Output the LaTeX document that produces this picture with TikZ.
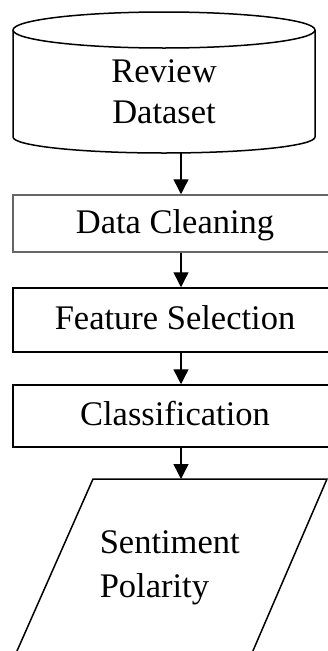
\documentclass[tikz,border=0pt]{standalone}
\usepackage{fontspec}
\setmainfont{Liberation Serif}
\usetikzlibrary{arrows.meta}
\begin{document}
\begin{tikzpicture}[x=1pt,y=-1pt,line width=1.5pt,
  arr/.style={-{Triangle[length=15pt,width=15pt]},line width=1.4pt},
  stepbox/.style={draw,minimum width=324pt,inner sep=0pt,text height=23pt,text depth=4pt,font=\fontsize{34.5}{41}\selectfont},
  lbl/.style={inner sep=0pt,font=\fontsize{34.5}{41}\selectfont}]
\clip (0,0) rectangle (328,651);
% cylinder
\draw (164,30) ellipse[x radius=151,y radius=18];
\draw (13,30) -- (13,137) arc[start angle=180,end angle=0,x radius=151,y radius=16] -- (315,30);
\node[lbl,align=center,anchor=north] (rev) at (164,59) {Review\\Dataset};
\coordinate (cylb) at (181,152.9);
% boxes
\node[stepbox,draw=black!60,minimum height=57pt] (dc) at (175,223.5) {Data Cleaning};
\node[stepbox,minimum height=64pt] (fs) at (175,320) {Feature Selection};
\node[stepbox,minimum height=62pt] (cl) at (175,416) {Classification};
% parallelogram
\coordinate (ptop) at (181,479);
\draw (93,479) -- (327,479) -- (249,660) -- (13,660) -- cycle;
\node[lbl,align=left,anchor=north west,font=\fontsize{34.5}{44}\selectfont] (sp) at (99,530) {Sentiment\\Polarity};
% arrows
\draw[arr] (cylb) -- (cylb |- dc.north);
\draw[arr] (dc.south -| cylb) -- (fs.north -| cylb);
\draw[arr] (fs.south -| cylb) -- (cl.north -| cylb);
\draw[arr] (cl.south -| cylb) -- (ptop);
\end{tikzpicture}
\end{document}
